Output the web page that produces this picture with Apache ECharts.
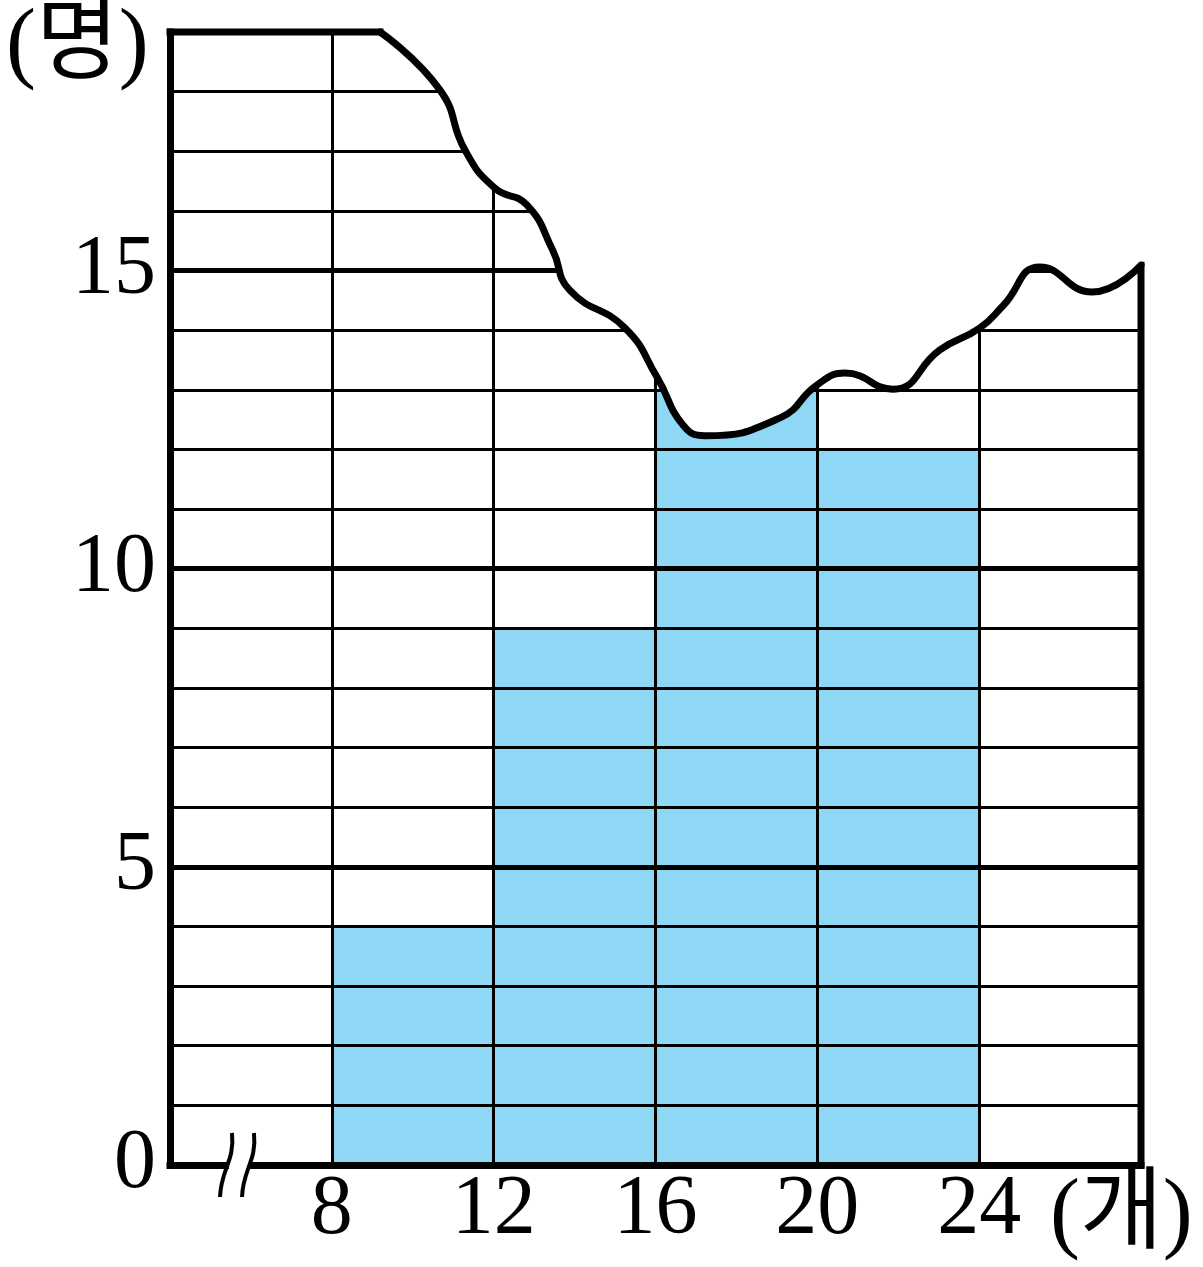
<!DOCTYPE html>
<html>
<head>
<meta charset="utf-8">
<script src="https://cdn.jsdelivr.net/npm/echarts@6/dist/echarts.min.js"></script>
<style>
html,body{margin:0;padding:0;background:#fff;}
#chart{width:1203px;height:1267px;}
</style>
</head>
<body>
<div id="chart"></div>
<script>
// ---- data ----
const binStarts = [4, 8, 12, 16, 20, 24];
const binEnds   = [8, 12, 16, 20, 24, 28];
const counts    = [0, 4, 9, 13, 12, 0];
const xTickLabels = [8, 12, 16, 20, 24];
const yTickLabels = [0, 5, 10, 15];
const xUnit = '(개)';
const yUnit = '(명)';
// torn top edge of the paper (wavy line)
const waveX = [9.19, 10.67, 11.29, 12.03, 12.82, 13.46, 13.88, 15.24, 16.04, 16.68, 17.22, 19.08, 19.99, 20.68, 21.87, 23.03, 24.02, 24.59, 25.50, 26.79, 28.0];
const waveY = [19.0, 18.03, 17.02, 16.38, 16.10, 15.34, 14.67, 14.04, 13.21, 12.41, 12.23, 12.53, 13.08, 13.28, 13.01, 13.67, 14.04, 14.41, 15.06, 14.64, 15.09];
const topEdgeX = [4, 9.19];
const topEdgeY = [19, 19];
const xMin = 4, xMax = 28, yMax = 19;
const axisBreakAt = [5.73];

// ---- build ----
const barData = binStarts.map((s, i) => [s, binEnds[i], counts[i]]);
const waveData = waveX.map((x, i) => [x, waveY[i]]);
const topEdgeData = topEdgeX.map((x, i) => [x, topEdgeY[i]]);
const rightEdgeData = [[xMax, 0], [xMax, waveY[waveY.length - 1]]];

const numFont = 'Liberation Serif';
const unitFont = 'Liberation Serif, "Noto Sans CJK KR"';
const chart = echarts.init(document.getElementById('chart'), null, {renderer: 'canvas'});
chart.setOption({
  animation: false,
  backgroundColor: '#fff',
  title: [
    {text: yUnit, left: 6, top: 2, padding: 0,
     textStyle: {fontFamily: unitFont, fontSize: 90, fontWeight: 'normal', color: '#000'}},
    {text: xUnit, left: 1050, top: 1172, padding: 0,
     textStyle: {fontFamily: unitFont, fontSize: 90, fontWeight: 'normal', color: '#000'}}
  ],
  grid: {left: 170, right: 62, top: 32, bottom: 102, containLabel: false},
  xAxis: {
    type: 'value', min: xMin, max: xMax, interval: 4, z: 3,
    axisLine: {show: true, lineStyle: {color: '#000', width: 7, cap: 'square'}},
    axisTick: {show: false},
    axisLabel: {margin: 4, fontFamily: numFont, fontSize: 84, color: '#000',
      formatter: v => xTickLabels.indexOf(v) >= 0 ? String(v) : ''},
    splitLine: {show: true, showMinLine: false, showMaxLine: false, lineStyle: {color: '#000', width: 3}}
  },
  yAxis: [
    {
      type: 'value', min: 0, max: yMax, interval: 1, position: 'left', z: 3,
      axisLine: {show: true, lineStyle: {color: '#000', width: 7, cap: 'square'}},
      axisTick: {show: false},
      axisLabel: {margin: 14, fontFamily: numFont, fontSize: 84, color: '#000',
        formatter: v => yTickLabels.indexOf(v) >= 0 ? String(v) : ''},
      splitLine: {show: true, showMinLine: false, showMaxLine: false, lineStyle: {color: '#000', width: 3}}
    },
    {
      type: 'value', min: 0, max: yMax, interval: 5, position: 'right', z: 3,
      axisLine: {show: false}, axisTick: {show: false}, axisLabel: {show: false},
      splitLine: {show: true, showMinLine: false, showMaxLine: false, lineStyle: {color: '#000', width: 5}}
    }
  ],
  series: [
    {
      type: 'custom', z: 1, clip: false,
      data: barData,
      renderItem: function (params, api) {
        const p0 = api.coord([api.value(0), api.value(2)]);
        const p1 = api.coord([api.value(1), 0]);
        return {type: 'rect', shape: {x: p0[0], y: p0[1], width: p1[0] - p0[0], height: p1[1] - p0[1]},
          style: {fill: '#8ED8F6'}};
      }
    },
    {
      type: 'line', z: 4, clip: false, data: rightEdgeData, symbol: 'none',
      lineStyle: {color: '#000', width: 7, cap: 'square'}
    },
    {
      type: 'line', z: 5, clip: false, data: waveData, symbol: 'none', smooth: 0.5,
      lineStyle: {color: '#000', width: 7, join: 'round', cap: 'round'},
      areaStyle: {color: '#fff', opacity: 1, origin: 'end'}
    },
    {
      type: 'line', z: 6, clip: false, data: topEdgeData, symbol: 'none',
      lineStyle: {color: '#000', width: 7, cap: 'square'}
    },
    {
      type: 'custom', z: 7, clip: false,
      data: axisBreakAt.map(x => [x, 0]),
      renderItem: function (params, api) {
        const c = api.coord([api.value(0), api.value(1)]);
        const cx = c[0], cy = c[1];
        const curve = dx => ({type: 'bezierCurve',
          shape: {x1: cx - 8 + dx, y1: cy - 32, cpx1: cx - 5 + dx, cpy1: cy - 4,
                  cpx2: cx - 19 + dx, cpy2: cy + 4, x2: cx - 20 + dx, y2: cy + 32},
          style: {stroke: '#000', lineWidth: 4, fill: null}});
        return {type: 'group', children: [
          {type: 'rect', shape: {x: cx - 11, y: cy - 6, width: 21, height: 12}, style: {fill: '#fff'}},
          curve(0), curve(22)
        ]};
      }
    }
  ]
});
</script>
</body>
</html>
